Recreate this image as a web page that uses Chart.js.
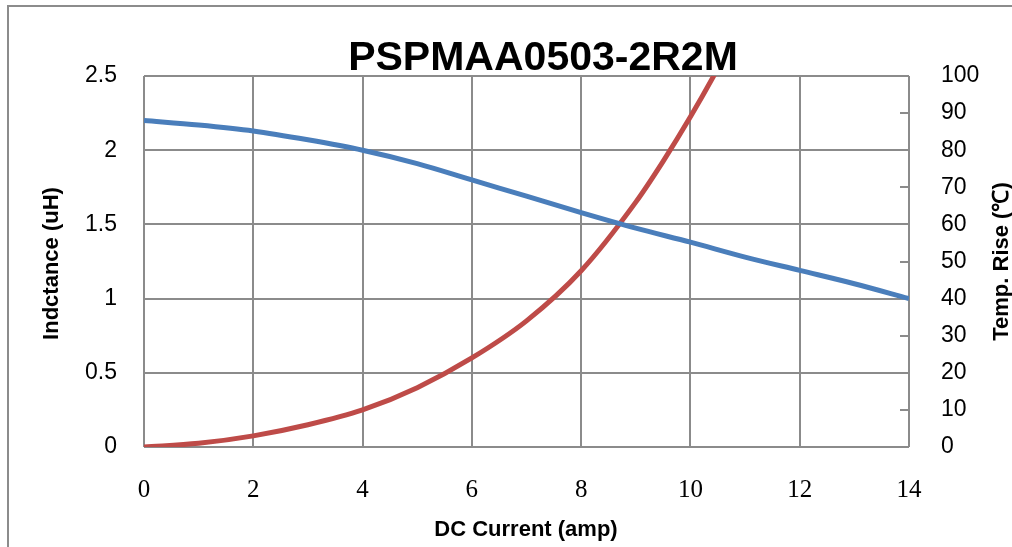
<!DOCTYPE html>
<html>
<head>
<meta charset="utf-8">
<script src="https://cdn.jsdelivr.net/npm/chart.js@4/dist/chart.umd.min.js"></script>
<style>
  html, body { margin: 0; padding: 0; background: #fff; overflow: hidden; width: 1012px; height: 547px; }
  #frame { position: absolute; left: 7px; top: 5px; width: 1200px; height: 800px; border: 2px solid #8c8c8c; }
  #c { position: absolute; left: 0; top: 0; }
</style>
</head>
<body>
<div id="frame"></div>
<canvas id="c" width="1012" height="547"></canvas>
<script>
// ---- Data ----
const chartTitle = 'PSPMAA0503-2R2M';
const xTitle = 'DC Current (amp)';
const yLeftTitle = 'Indctance (uH)';
const yRightTitle = 'Temp. Rise (\u2103)';

const inductanceCurrent = [0, 1, 2, 3, 4, 5, 6, 7, 8, 9, 10, 11, 12, 13, 14];
const inductanceValues  = [2.20, 2.17, 2.13, 2.07, 2.00, 1.91, 1.80, 1.69, 1.58, 1.475, 1.38, 1.28, 1.19, 1.10, 1.00];

const tempCurrent = [0, 1, 2, 3, 4, 5, 6, 7, 8, 9, 9.5, 10, 10.5, 11];
const tempRise    = [0, 1, 3, 6, 10, 16, 24, 34, 47.5, 66, 77, 89, 102, 116];

const xTicks = [0, 2, 4, 6, 8, 10, 12, 14];
const yLeftTicks = [0, 0.5, 1, 1.5, 2, 2.5];
const yRightTicks = [0, 10, 20, 30, 40, 50, 60, 70, 80, 90, 100];

// ---- Styles ----
const GRID = '#8b8b8b';
const SANS = '"Liberation Sans", Arial, sans-serif';
const SERIF = '"Liberation Serif", "Times New Roman", serif';

const extras = {
  id: 'extras',
  beforeDatasetsDraw(chart) {
    const ctx = chart.ctx, a = chart.chartArea, s = chart.scales.y1;
    ctx.save();
    ctx.strokeStyle = GRID;
    ctx.lineWidth = 2;
    s.ticks.forEach(t => {
      const y = Math.round(s.getPixelForValue(t.value));
      ctx.beginPath();
      ctx.moveTo(a.right - 9, y);
      ctx.lineTo(a.right, y);
      ctx.stroke();
    });
    ctx.restore();
  },
  afterDraw(chart) {
    const ctx = chart.ctx, a = chart.chartArea;
    ctx.save();
    ctx.fillStyle = '#000';
    ctx.textAlign = 'center';
    ctx.textBaseline = 'alphabetic';
    ctx.font = 'bold 41px ' + SANS;
    ctx.fillText(chartTitle, 543, 70);
    ctx.font = 'bold 22px ' + SANS;
    ctx.fillText(xTitle, 526, 536);
    const midY = (a.top + a.bottom) / 2;
    ctx.textBaseline = 'middle';
    ctx.translate(52, midY + 2);
    ctx.rotate(-Math.PI / 2);
    ctx.fillText(yLeftTitle, 0, 0);
    ctx.restore();
    ctx.save();
    ctx.fillStyle = '#000';
    ctx.textAlign = 'center';
    ctx.textBaseline = 'middle';
    ctx.font = 'bold 22px ' + SANS;
    ctx.translate(1002, midY);
    ctx.rotate(-Math.PI / 2);
    ctx.fillText(yRightTitle, 0, 0);
    ctx.restore();
  }
};

new Chart(document.getElementById('c'), {
  type: 'line',
  data: {
    datasets: [
      {
        label: 'Inductance',
        data: inductanceCurrent.map((x, i) => ({ x, y: inductanceValues[i] })),
        borderColor: '#4a7ebb',
        borderWidth: 5,
        pointRadius: 0,
        cubicInterpolationMode: 'monotone',
        yAxisID: 'y',
        clip: 0
      },
      {
        label: 'Temp. Rise',
        data: tempCurrent.map((x, i) => ({ x, y: tempRise[i] })),
        borderColor: '#be4b48',
        borderWidth: 5,
        pointRadius: 0,
        cubicInterpolationMode: 'monotone',
        yAxisID: 'y1',
        clip: 0
      }
    ]
  },
  options: {
    responsive: false,
    animation: false,
    devicePixelRatio: 1,
    layout: { padding: { top: 76, left: 0, right: 0, bottom: 0 } },
    plugins: { legend: { display: false }, title: { display: false }, tooltip: { enabled: false } },
    scales: {
      x: {
        type: 'linear',
        min: 0, max: 14,
        afterBuildTicks: s => { s.ticks = xTicks.map(v => ({ value: v })); },
        afterFit: s => { s.height = 100; },
        grid: { color: GRID, lineWidth: 2, drawTicks: false },
        border: { display: false },
        ticks: { color: '#000', font: { family: SERIF, size: 25 }, padding: 28, maxRotation: 0, callback: v => String(v) }
      },
      y: {
        position: 'left',
        min: 0, max: 2.5,
        afterBuildTicks: s => { s.ticks = yLeftTicks.map(v => ({ value: v })); },
        afterFit: s => { s.width = 144; },
        grid: { color: GRID, lineWidth: 2, drawTicks: false },
        border: { display: false },
        ticks: { color: '#000', font: { family: SANS, size: 23 }, padding: 27, callback: v => String(v) }
      },
      y1: {
        position: 'right',
        min: 0, max: 100,
        afterBuildTicks: s => { s.ticks = yRightTicks.map(v => ({ value: v })); },
        afterFit: s => { s.width = 103; },
        grid: { display: false, drawOnChartArea: false },
        border: { display: false },
        ticks: { color: '#000', font: { family: SANS, size: 23 }, padding: 24, callback: v => String(v) }
      }
    }
  },
  plugins: [extras]
});
</script>
</body>
</html>
